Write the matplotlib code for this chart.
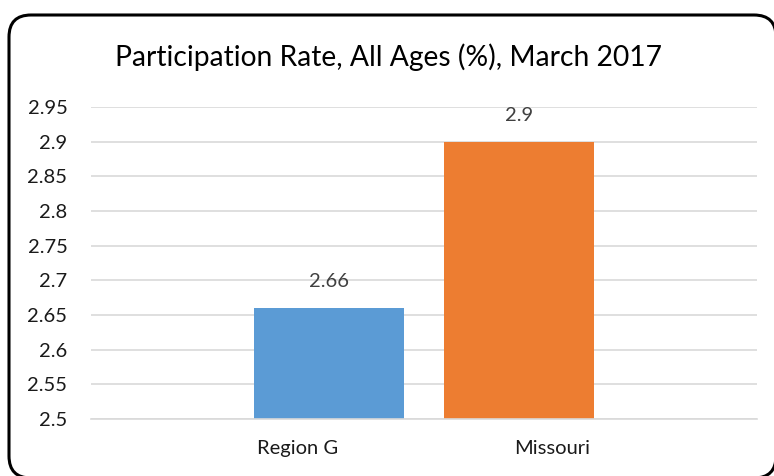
import numpy as np
import matplotlib
matplotlib.use('Agg')
import matplotlib.pyplot as plt
from matplotlib.patches import FancyBboxPatch

categories = ['Region G', 'Missouri']
values = [2.66, 2.9]
bar_colors = ['#5B9BD5', '#ED7D31']
y_ticks = [2.5, 2.55, 2.6, 2.65, 2.7, 2.75, 2.8, 2.85, 2.9, 2.95]
title = 'Participation Rate, All Ages (%), March 2017'

plt.rcParams['font.family'] = ['Lato', 'DejaVu Sans']

W, H = 774, 476
fig = plt.figure(figsize=(W / 100, H / 100), dpi=100, facecolor='white')

# frame with rounded corners, drawn in pixel units
bg = fig.add_axes([0, 0, 1, 1], zorder=0)
bg.set_xlim(0, W)
bg.set_ylim(H, 0)
bg.axis('off')
bg.add_patch(FancyBboxPatch((9 + 22, 15 + 22), 776 - 9 - 44, 478 - 15 - 44,
                            boxstyle='round,pad=22', facecolor='white',
                            edgecolor='black', linewidth=2.2, clip_on=False))

ax = fig.add_axes([91 / W, 1 - 419 / H, (757 - 91) / W, (419 - 107) / H], zorder=1)
ax.patch.set_alpha(0)
x = np.arange(len(categories))
bars = ax.bar(x, values, width=0.79, color=bar_colors, zorder=2)

ax.set_xlim(-1.2526, 2.2526)
ax.set_ylim(2.5, 2.95)
ax.set_yticks(y_ticks)
ax.set_yticklabels([f'{v:g}' for v in y_ticks], fontsize=14.5, color='#1a1a1a')
ax.tick_params(axis='y', length=0, pad=17)
ax.grid(axis='y', color='#D9D9D9', linewidth=1.2, zorder=0)
ax.set_axisbelow(True)
for side in ['top', 'right', 'left']:
    ax.spines[side].set_visible(False)
ax.spines['bottom'].set_color('#D9D9D9')
ax.spines['bottom'].set_linewidth(1.2)

# category labels sit off-centre in the original
ax.set_xticks([-0.163, 1.174])
ax.set_xticklabels(categories, fontsize=14.5, color='#1a1a1a')
ax.tick_params(axis='x', length=0, pad=15)

for b, v in zip(bars, values):
    ax.annotate(f'{v:g}', (b.get_x() + b.get_width() / 2, v),
                xytext=(0, 19), textcoords='offset points',
                ha='center', va='center', fontsize=14.5, color='#404040')

fig.text(388 / W, 1 - 57 / H, title, ha='center', va='center',
         fontsize=20.3, color='black')

fig.savefig('out.png', dpi=100, facecolor='white')
